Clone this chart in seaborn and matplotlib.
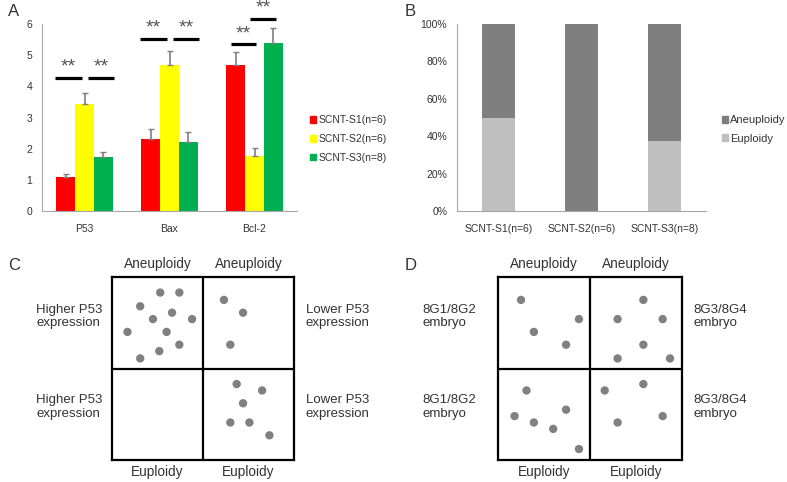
import numpy as np
import pandas as pd
import seaborn as sns
import matplotlib.pyplot as plt
from matplotlib.patches import Patch
from matplotlib.ticker import FuncFormatter

sns.set_style("white")
plt.rcParams['font.family'] = ['Liberation Sans', 'DejaVu Sans']

# panel A data
genes = ["P53", "Bax", "Bcl-2"]
groups = ["SCNT-S1(n=6)", "SCNT-S2(n=6)", "SCNT-S3(n=8)"]
s1_vals = [1.10, 2.31, 4.67]
s2_vals = [3.43, 4.69, 1.76]
s3_vals = [1.74, 2.22, 5.39]
s1_err = [0.10, 0.33, 0.42]
s2_err = [0.37, 0.45, 0.27]
s3_err = [0.16, 0.32, 0.48]
bar_colors = ["#FF0000", "#FFFF00", "#00B050"]
# significance bars: (gene index, start, end, height)
sig_bars = [(0, -0.35, -0.03, 4.28), (0, 0.04, 0.35, 4.28),
            (1, -0.35, -0.03, 5.53), (1, 0.04, 0.35, 5.53),
            (2, -0.28, 0.02, 5.35), (2, -0.05, 0.25, 6.17)]

# panel B data
samples = ["SCNT-S1(n=6)", "SCNT-S2(n=6)", "SCNT-S3(n=8)"]
euploidy_pct = [50.0, 0.0, 37.5]
total_pct = [100, 100, 100]

# panel C dots (box is 2x2, quadrants)
c_x = [0.53, 0.74, 0.31, 0.66, 0.45, 0.88, 0.17, 0.60, 0.74, 0.52, 0.31,
       1.23, 1.44, 1.30,
       1.37, 1.65, 1.44, 1.30, 1.51, 1.73]
c_y = [1.83, 1.83, 1.68, 1.61, 1.54, 1.54, 1.40, 1.40, 1.26, 1.19, 1.11,
       1.75, 1.61, 1.26,
       0.83, 0.76, 0.62, 0.41, 0.41, 0.27]
# panel D dots
d_x = [0.25, 0.88, 0.39, 0.74,
       1.58, 1.30, 1.79, 1.58, 1.30, 1.87,
       0.31, 0.18, 0.74, 0.39, 0.60, 0.88,
       1.16, 1.58, 1.79, 1.30]
d_y = [1.75, 1.54, 1.40, 1.26,
       1.75, 1.54, 1.54, 1.26, 1.11, 1.11,
       0.76, 0.48, 0.55, 0.41, 0.34, 0.12,
       0.76, 0.83, 0.48, 0.41]

W, H = 787, 482
fig = plt.figure(figsize=(W / 100, H / 100), dpi=100)


def px_axes(x0, y0, x1, y1):
    # pixel box (left, top, right, bottom) -> figure axes
    return fig.add_axes([x0 / W, 1 - y1 / H, (x1 - x0) / W, (y1 - y0) / H])


txt = "#333333"
axis_grey = "#A6A6A6"

# ---------------- A ----------------
axA = px_axes(42, 24, 297, 211)
dfA = pd.DataFrame({
    "gene": genes * 3,
    "group": [groups[0]] * 3 + [groups[1]] * 3 + [groups[2]] * 3,
    "value": s1_vals + s2_vals + s3_vals,
})
errs = [s1_err, s2_err, s3_err]
sns.barplot(data=dfA, x="gene", y="value", hue="group", palette=bar_colors,
            width=0.67, errorbar=None, saturation=1, linewidth=0, ax=axA,
            legend=False)
for cont, e in zip(axA.containers, errs):
    xs = [b.get_x() + b.get_width() / 2 for b in cont]
    ys = [b.get_height() for b in cont]
    axA.errorbar(xs, ys, yerr=[np.zeros(len(e)), e], fmt="none",
                 ecolor="#7F7F7F", elinewidth=1.2, capsize=2.5, capthick=1)
for gi, a, b, h in sig_bars:
    axA.plot([gi + a, gi + b], [h, h], color="black", lw=2.3,
             solid_capstyle="butt", clip_on=False)
    axA.text(gi + (a + b) / 2, h + 0.2, "**", ha="center", va="baseline",
             fontsize=14, color="#555555", clip_on=False)
axA.set_ylim(0, 6)
axA.set_xlim(-0.5, 2.5)
axA.set_yticks(range(7))
axA.set_xticks([-0.5, 0.5, 1.5, 2.5])
axA.set_xticklabels([])
axA.set_xticks([0, 1, 2], minor=True)
axA.set_xticklabels(genes, minor=True)
axA.tick_params(axis="x", which="minor", length=0, pad=9, labelsize=7.5, labelcolor=txt)
axA.tick_params(axis="x", which="major", length=3, color=axis_grey, direction="out")
axA.tick_params(axis="y", length=3, color=axis_grey, direction="out", labelsize=7.5,
                labelcolor=txt, pad=4)
axA.set_xlabel("")
axA.set_ylabel("")
sns.despine(ax=axA)
for s in ["left", "bottom"]:
    axA.spines[s].set_color(axis_grey)
    axA.spines[s].set_linewidth(0.8)
handlesA = [Patch(color=c, label=g) for c, g in zip(bar_colors, groups)]
axA.legend(handles=handlesA, loc="center left", bbox_to_anchor=(1.05, 0.385),
           frameon=False, fontsize=7.5, handlelength=0.6, handleheight=0.6,
           handletextpad=0.2, labelspacing=0.85, labelcolor=txt,
           borderpad=0, borderaxespad=0)
fig.text(8 / W, 1 - 12 / H, "A", fontsize=12, va="center", ha="left", color=txt)

# ---------------- B ----------------
axB = px_axes(457, 24, 706, 211)
dfB = pd.DataFrame({"sample": samples, "total": total_pct, "eu": euploidy_pct})
sns.barplot(data=dfB, x="sample", y="total", color="#7F7F7F", width=0.4,
            saturation=1, linewidth=0, ax=axB)
sns.barplot(data=dfB, x="sample", y="eu", color="#BFBFBF", width=0.4,
            saturation=1, linewidth=0, ax=axB)
axB.set_ylim(0, 100)
axB.set_xlim(-0.5, 2.5)
axB.set_yticks(range(0, 101, 20))
axB.yaxis.set_major_formatter(FuncFormatter(lambda v, p: f"{int(v)}%"))
axB.set_xticks([-0.5, 0.5, 1.5, 2.5])
axB.set_xticklabels([])
axB.set_xticks([0, 1, 2], minor=True)
axB.set_xticklabels(samples, minor=True)
axB.tick_params(axis="x", which="minor", length=0, pad=9, labelsize=7.5, labelcolor=txt)
axB.tick_params(axis="x", which="major", length=3, color=axis_grey, direction="out")
axB.tick_params(axis="y", length=3, color=axis_grey, direction="out", labelsize=7.5,
                labelcolor=txt, pad=4)
axB.set_xlabel("")
axB.set_ylabel("")
sns.despine(ax=axB)
for s in ["left", "bottom"]:
    axB.spines[s].set_color(axis_grey)
    axB.spines[s].set_linewidth(0.8)
handlesB = [Patch(color="#7F7F7F", label="Aneuploidy"),
            Patch(color="#BFBFBF", label="Euploidy")]
axB.legend(handles=handlesB, loc="center left", bbox_to_anchor=(1.064, 0.436),
           frameon=False, fontsize=8, handlelength=0.55, handleheight=0.55,
           handletextpad=0.15, labelspacing=0.75, labelcolor=txt,
           borderpad=0, borderaxespad=0)
fig.text(405 / W, 1 - 12 / H, "B", fontsize=12, va="center", ha="left", color=txt)


# ---------------- C / D ----------------
def quad_panel(ax, xs, ys, left_lab, right_lab, lx, rx):
    sns.scatterplot(x=xs, y=ys, color="#808080", s=36, edgecolor="none", ax=ax)
    ax.set_xlim(0, 2)
    ax.set_ylim(0, 2)
    ax.axvline(1, color="black", lw=1.6)
    ax.axhline(1, color="black", lw=1.6)
    for s in ax.spines.values():
        s.set_visible(True)
        s.set_color("black")
        s.set_linewidth(1.6)
    ax.set_xticks([])
    ax.set_yticks([])
    for xc in [0.5, 1.5]:
        ax.text(xc, 2.14, "Aneuploidy", ha="center", va="center", fontsize=9.8,
                color=txt, clip_on=False)
        ax.text(xc, -0.13, "Euploidy", ha="center", va="center", fontsize=9.8,
                color=txt, clip_on=False)
    for yc in [1.57, 0.58]:
        ax.text(lx, yc, left_lab, ha="left", va="center", fontsize=9.5,
                color=txt, linespacing=1.15, clip_on=False)
        ax.text(rx, yc, right_lab, ha="left", va="center", fontsize=9.5,
                color=txt, linespacing=1.15, clip_on=False)


axC = px_axes(112, 277, 294, 460)
quad_panel(axC, c_x, c_y, "Higher P53\nexpression", "Lower P53\nexpression", -0.835, 2.13)
fig.text(8 / W, 1 - 266 / H, "C", fontsize=12, va="center", ha="left", color=txt)

axD = px_axes(498, 277, 682, 460)
quad_panel(axD, d_x, d_y, "8G1/8G2\nembryo", "8G3/8G4\nembryo", -0.826, 2.12)
fig.text(405 / W, 1 - 266 / H, "D", fontsize=12, va="center", ha="left", color=txt)

plt.savefig("out.png", dpi=100)
